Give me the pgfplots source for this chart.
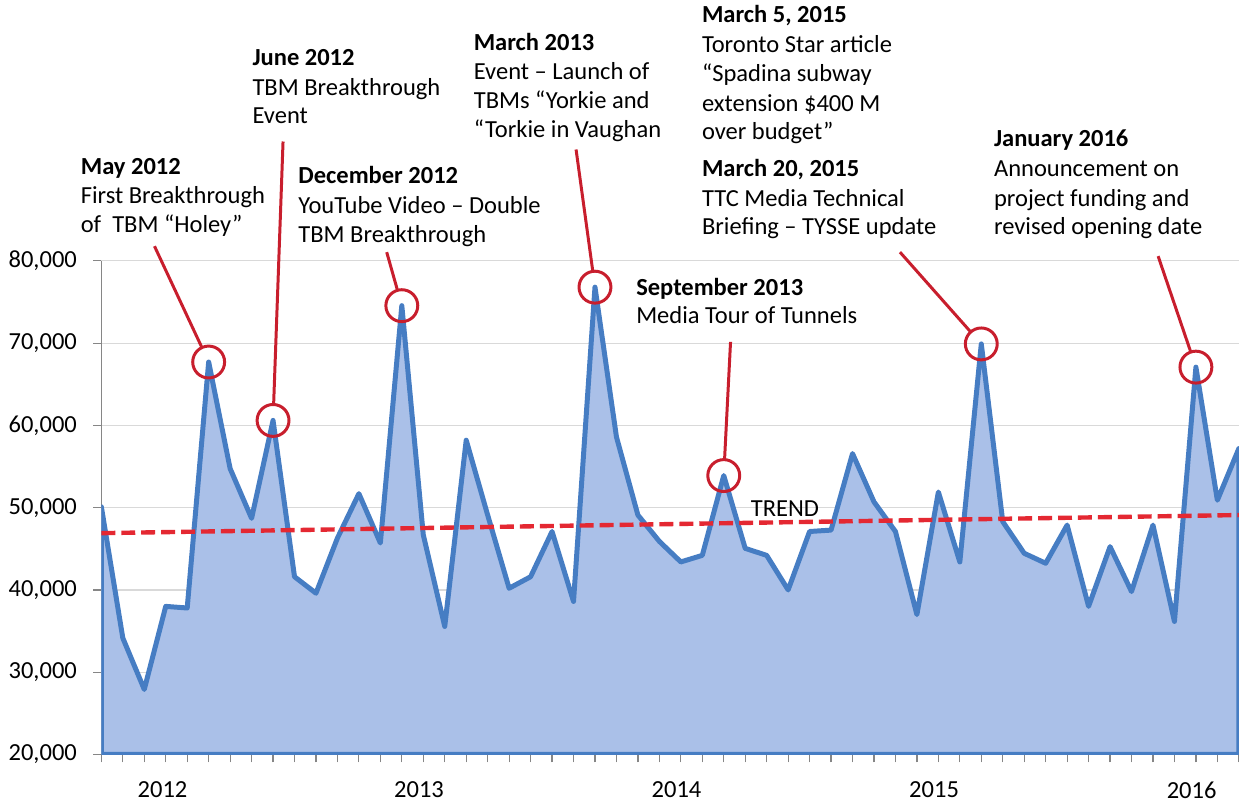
\documentclass[border=0pt]{standalone}
\usepackage{fontspec}
\setmainfont{Carlito}
\usepackage{pgfplots}
\usepackage{pgfplotstable}
\pgfplotsset{compat=1.18}

\definecolor{areafill}{RGB}{170,192,232}
\definecolor{arealine}{RGB}{70,125,195}
\definecolor{callout}{RGB}{200,30,45}
\definecolor{trendred}{RGB}{228,40,50}
\definecolor{gridgrey}{RGB}{217,217,217}
\definecolor{axisgrey}{RGB}{134,134,134}

% monthly ridership, month 0 = first month shown
\pgfplotstableread{
idx riders
0 50100
1 34150
2 27900
3 38000
4 37800
5 67700
6 54750
7 48700
8 60600
9 41600
10 39600
11 46300
12 51700
13 45700
14 74550
15 46700
16 35560
17 58200
18 49100
19 40200
20 41600
21 47100
22 38600
23 76800
24 58600
25 49100
26 45900
27 43400
28 44200
29 53900
30 45050
31 44200
32 40000
33 47100
34 47270
35 56570
36 50700
37 47100
38 37000
39 51900
40 43400
41 69900
42 48300
43 44450
44 43240
45 47880
46 38000
47 45260
48 39800
49 47880
50 36170
51 67080
52 50900
53 57180
}\ridership

\begin{document}
\fontsize{12.3}{14.4}\selectfont
\begin{tikzpicture}
% pixel frame of the reference (y down)
\begin{scope}[x=0.5pt,y=-0.5pt,shift={(-50.85pt,378.5pt)}]
\path[use as bounding box] (0,0) rectangle (1247,803);
\end{scope}

\begin{axis}[
    scale only axis,
    width=570.65pt, height=247.65pt,
    xmin=0, xmax=53, ymin=20000, ymax=80000,
    axis lines*=left,
    axis line style={axisgrey, line width=0.8pt},
    xtick={0,...,53}, xticklabels={},
    extra x ticks={2.85,14.8,26.8,38.8,50.8},
    extra x tick labels={2012,2013,2014,2015,2016},
    extra x tick style={major tick length=0pt, grid=none,
        tick label style={yshift=-9.5pt}},
    ytick={20000,30000,...,80000},
    scaled y ticks=false,
    ymajorgrids,
    major grid style={gridgrey, line width=0.6pt},
    tick align=outside, major tick length=4pt,
    tick style={axisgrey, line width=0.6pt},
    yticklabel style={xshift=-4pt, /pgf/number format/fixed,
        /pgf/number format/1000 sep={,}},
    /pgf/number format/assume math mode=true,
]
\addplot[fill=areafill, draw=arealine, line width=2.5pt, line join=round]
    table[x=idx, y=riders]{\ridership} \closedcycle;
\addplot[trendred, line width=2.2pt, dash pattern=on 7pt off 3pt]
    coordinates {(0,46900) (53,49100)};
\addplot[only marks, mark=o, mark size=8pt,
    mark options={callout, line width=1.5pt}]
    coordinates {(5,67700) (8,60600) (14,74550) (23,76800) (29,53900) (41,69900) (51,67080)};
\coordinate (c1) at (axis cs:5,67700);
\coordinate (c2) at (axis cs:8,60600);
\coordinate (c3) at (axis cs:14,74550);
\coordinate (c4) at (axis cs:23,76800);
\coordinate (c5) at (axis cs:29,53900);
\coordinate (c6) at (axis cs:41,69900);
\coordinate (c7) at (axis cs:51,67080);
\end{axis}

\begin{scope}[x=0.5pt,y=-0.5pt,shift={(-50.85pt,378.5pt)},
    every node/.style={anchor=base west, inner sep=0pt}]
\draw[callout, line width=1.5pt, shorten >=8pt] (155,247) -- (c1);
\draw[callout, line width=1.5pt, shorten >=8pt] (284,142) -- (c2);
\draw[callout, line width=1.5pt, shorten >=8pt] (388,253) -- (c3);
\draw[callout, line width=1.5pt, shorten >=8pt] (578,150) -- (c4);
\draw[callout, line width=1.5pt, shorten >=8pt] (733,343) -- (c5);
\draw[callout, line width=1.5pt, shorten >=8pt] (903,253) -- (c6);
\draw[callout, line width=1.5pt, shorten >=8pt] (1162,257) -- (c7);

\node at (80.7,175) {\bfseries May 2012};
\node at (80.7,204) {First Breakthrough};
\node at (80.7,233) {of\ \ TBM “Holey”};

\node at (253,66) {\bfseries June 2012};
\node at (253,95.7) {TBM Breakthrough};
\node at (253,124) {Event};

\node at (299,184) {\bfseries December 2012};
\node at (299,214) {YouTube Video – Double};
\node at (299,243) {TBM Breakthrough};

\node at (475,51) {\bfseries March 2013};
\node at (475,80) {Event – Launch of};
\node at (475,109) {TBMs “Yorkie and};
\node at (475,138) {“Torkie in Vaughan};

\node at (638,297) {\bfseries September 2013};
\node at (638,325) {Media Tour of Tunnels};

\node at (704,23) {\bfseries March 5, 2015};
\node at (704,53) {Toronto Star article};
\node at (704,82) {“Spadina subway};
\node at (704,112) {extension \$400 M};
\node at (704,140) {over budget”};
\node at (704,177) {\bfseries March 20, 2015};
\node at (704,207) {TTC Media Technical};
\node at (704,235) {Briefing – TYSSE update};

\node at (997,147) {\bfseries January 2016};
\node at (997,177) {Announcement on};
\node at (997,207) {project funding and};
\node at (997,235) {revised opening date};

\node at (753,518) {TREND};
\end{scope}
\end{tikzpicture}
\end{document}
